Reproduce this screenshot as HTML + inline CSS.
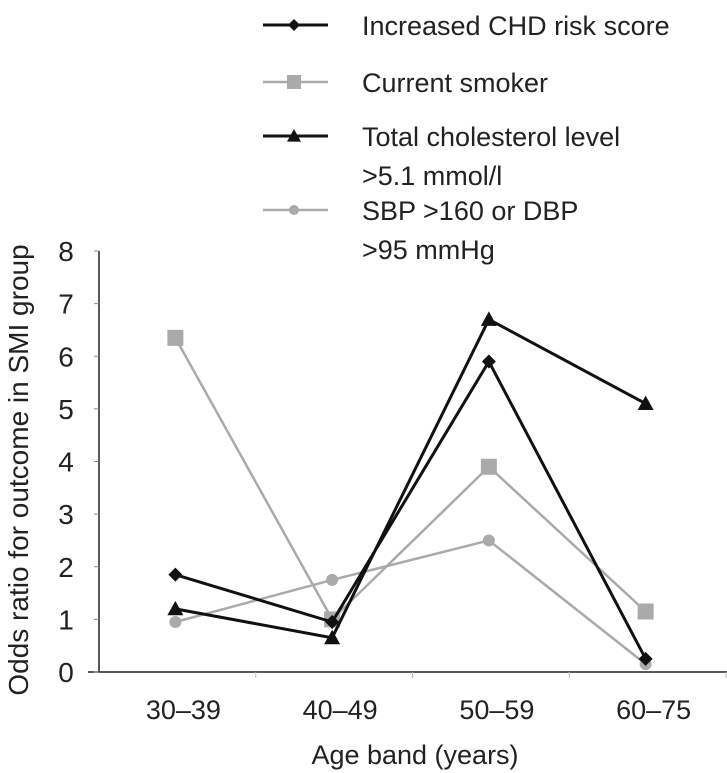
<!DOCTYPE html>
<html><head><meta charset="utf-8"><style>
html,body{margin:0;padding:0;background:#fff;}
svg{display:block;font-family:"Liberation Sans",sans-serif;}
</style></head><body>
<svg id="chart" width="727" height="773" viewBox="0 0 727 773">
<g id="legend"></g>
<g id="axes"></g>
<g id="series"></g>
</svg>
<script>
const categories = ["30\u201339","40\u201349","50\u201359","60\u201375"];
const yTicks = [0,1,2,3,4,5,6,7,8];
const chdRisk = [1.85,0.95,5.9,0.25];
const smoker = [6.35,1.0,3.9,1.15];
const cholesterol = [1.2,0.65,6.7,5.1];
const bloodPressure = [0.95,1.75,2.5,0.15];

const NS="http://www.w3.org/2000/svg";
function mk(tag,attrs,parent){const e=document.createElementNS(NS,tag);for(const k in attrs)e.setAttribute(k,attrs[k]);parent.appendChild(e);return e;}
const x0=99,x1=726,y0=672,yTop=251,ymax=8;
const bandW=(x1-x0)/categories.length;
function xs(i){return x0+bandW*(i+0.5)-2;}
function ys(v){return y0-(v/ymax)*(y0-yTop);}
const axes=document.getElementById('axes');
let yl=mk('line',{x1:x0,y1:y0,x2:x0,y2:yTop,stroke:'#222','stroke-width':1.5},axes);


let xl=mk('line',{x1:88,y1:y0,x2:727,y2:y0,stroke:'#222','stroke-width':1.5},axes);


yTicks.forEach(t=>{
  const tk=mk('line',{x1:x0-5,y1:ys(t),x2:x0,y2:ys(t),stroke:'#888','stroke-width':1},axes);
  
  
  const tl=mk('text',{x:66,y:ys(t)+10,'text-anchor':'middle','font-size':28,fill:'#222'},axes);
  tl.textContent=t;
  
  
});
categories.forEach((c,i)=>{
  const bx=x0+bandW*(i+1);
  const tk=mk('line',{x1:bx,y1:y0,x2:bx,y2:y0+6,stroke:'#bbb','stroke-width':1},axes);
  
  
  const tl=mk('text',{x:xs(i)+8,y:719,'text-anchor':'middle','font-size':27,fill:'#222'},axes);
  tl.textContent=c;
  
  
});
const xt=mk('text',{x:415,y:764,'text-anchor':'middle','font-size':27,fill:'#222'},axes);
xt.textContent='Age band (years)';


const yt=mk('text',{x:0,y:0,transform:'translate(28,470) rotate(-90)','text-anchor':'middle','font-size':28,fill:'#222'},axes);
yt.textContent='Odds ratio for outcome in SMI group';



function marker(g,type,cx,cy,color,s){
  let e;
  if(type==='diamond')e=mk('polygon',{points:`${cx},${cy-s} ${cx+s},${cy} ${cx},${cy+s} ${cx-s},${cy}`,fill:color},g);
  else if(type==='square')e=mk('rect',{x:cx-s,y:cy-s,width:2*s,height:2*s,fill:color},g);
  else if(type==='triangle')e=mk('polygon',{points:`${cx},${cy-s} ${cx+s},${cy+s*0.8} ${cx-s},${cy+s*0.8}`,fill:color},g);
  else e=mk('circle',{cx:cx,cy:cy,r:s,fill:color},g);
  return e;
}
const seriesDefs=[
 {name:'chd-risk',vals:chdRisk,color:'#111',w:3,m:'diamond',s:7},
 {name:'current-smoker',vals:smoker,color:'#aaa',w:2.5,m:'square',s:8},
 {name:'cholesterol',vals:cholesterol,color:'#111',w:3,m:'triangle',s:8},
 {name:'blood-pressure',vals:bloodPressure,color:'#aaa',w:2.5,m:'circle',s:6}
];
const sg=document.getElementById('series');
[3,1,2,0].forEach(k=>{
  const d=seriesDefs[k];
  const g=mk('g',{},sg);
  
  
  const pl=mk('polyline',{points:d.vals.map((v,i)=>xs(i)+','+ys(v)).join(' '),fill:'none',stroke:d.color,'stroke-width':d.w},g);
  
  
  d.vals.forEach((v,i)=>{
    const m=marker(g,d.m,xs(i),ys(v),d.color,d.s);
    
    
  });
});
const lg=document.getElementById('legend');
const legRows=[
 {d:0,y:25,lines:['Increased CHD risk score']},
 {d:1,y:82,lines:['Current smoker']},
 {d:2,y:136,lines:['Total cholesterol level','>5.1 mmol/l']},
 {d:3,y:210,lines:['SBP >160 or DBP','>95 mmHg']}
];
legRows.forEach(r=>{
  const d=seriesDefs[r.d];
  const g=mk('g',{},lg);
  
  
  mk('line',{x1:263,y1:r.y,x2:328,y2:r.y,stroke:d.color,'stroke-width':d.w},g);
  marker(g,d.m,294,r.y,d.color,d.s-1);
  r.lines.forEach((t,j)=>{
    const tx=mk('text',{x:362,y:r.y+10+j*39,'font-size':27,fill:'#222'},g);
    tx.textContent=t;
    
    
  });
});
</script>
</body></html>
